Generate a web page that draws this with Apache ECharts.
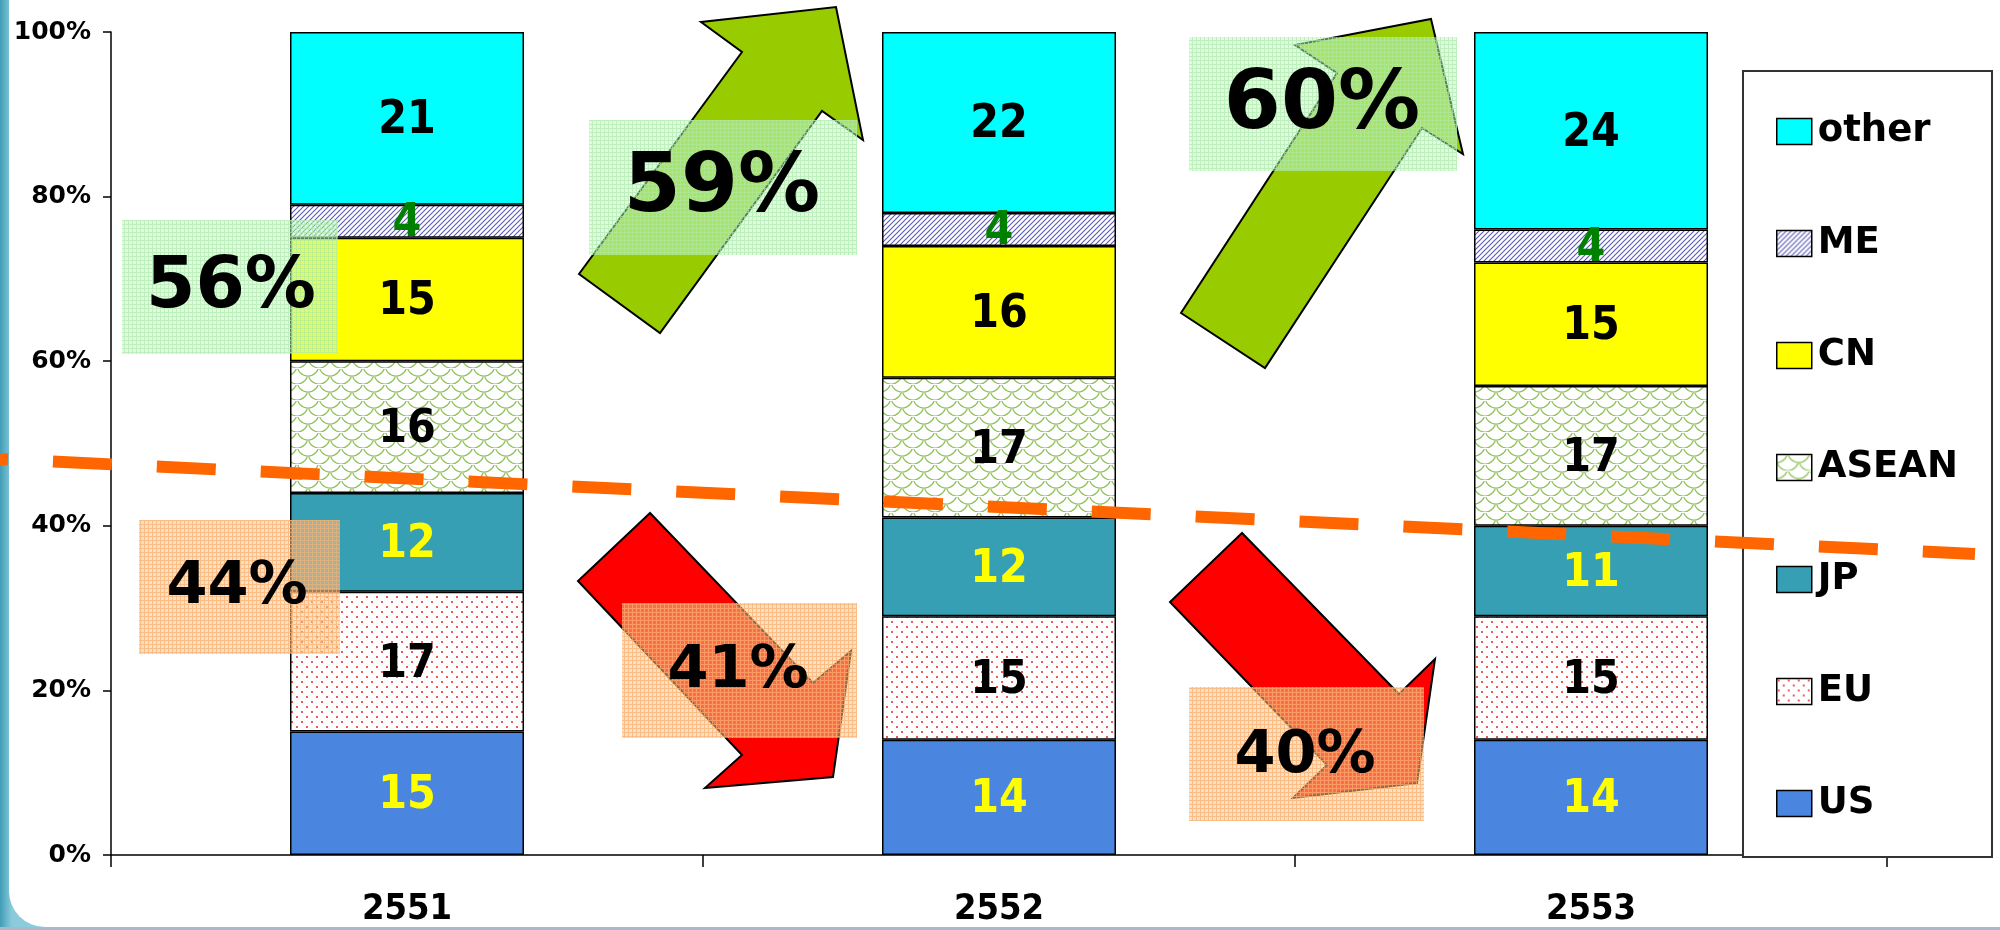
<!DOCTYPE html>
<html>
<head>
<meta charset="utf-8">
<script src="https://cdn.jsdelivr.net/npm/echarts@6/dist/echarts.min.js"></script>
<style>
html,body{margin:0;padding:0;background:#fff;}
#chart{width:2000px;height:930px;}
</style>
</head>
<body>
<div id="chart"></div>
<script>
// ---- data ----
const categories = ['2551', '2552', '2553'];
const US    = [15, 14, 14];
const EU    = [17, 15, 15];
const JP    = [12, 12, 11];
const ASEAN = [16, 17, 17];
const CN    = [15, 16, 15];
const ME    = [4, 4, 4];
const other = [21, 22, 24];
const upShares   = ['56%', '59%', '60%'];
const downShares = ['44%', '41%', '40%'];
const legendOrder = ['other', 'ME', 'CN', 'ASEAN', 'JP', 'EU', 'US'];

// ---- patterns ----
function makeTile(w, h, draw, bg) {
  const c = document.createElement('canvas');
  c.width = w; c.height = h;
  const ctx = c.getContext('2d');
  if (bg) { ctx.fillStyle = bg; ctx.fillRect(0, 0, w, h); }
  draw(ctx, w, h);
  return { image: c, repeat: 'repeat' };
}
const patME = makeTile(5, 5, (ctx, w, h) => {
  ctx.strokeStyle = '#5a5ab8';
  ctx.lineWidth = 1.1;
  ctx.beginPath();
  for (let k = -1; k <= 1; k++) {
    ctx.moveTo(k * w - 1, h + 1);
    ctx.lineTo(k * w + w + 1, -1);
  }
  ctx.stroke();
}, '#fff');
const patASEAN = makeTile(22, 16, (ctx, w, h) => {
  ctx.strokeStyle = '#8fc05a';
  ctx.lineWidth = 1.2;
  const r = 11;
  const arc = (cx, cy) => { ctx.beginPath(); ctx.arc(cx, cy, r, 0.12 * Math.PI, 0.88 * Math.PI); ctx.stroke(); };
  arc(0, -3); arc(22, -3); arc(11, 5); arc(0, 13); arc(22, 13);
}, '#fff');
const patEU = makeTile(10, 10, (ctx) => {
  ctx.fillStyle = '#ee5a5a';
  ctx.fillRect(1, 1, 2, 2);
  ctx.fillRect(6, 6, 2, 2);
}, '#fff');
function boxPattern(base, line) {
  return makeTile(4, 4, (ctx) => {
    ctx.fillStyle = base; ctx.fillRect(0, 0, 4, 4);
    ctx.fillStyle = line; ctx.fillRect(0, 0, 4, 1); ctx.fillRect(0, 1, 1, 3);
  });
}
const greenBox = boxPattern('rgba(195,247,195,0.5)', 'rgba(170,235,170,0.65)');
const orangeBox = boxPattern('rgba(252,195,140,0.55)', 'rgba(250,175,110,0.7)');

const FONT_C = '"DejaVu Sans Condensed", "DejaVu Sans", sans-serif';
const FONT = '"DejaVu Sans", sans-serif';

const defs = [
  { name: 'US',    data: US,    color: '#4A86DF', label: '#FFFF00' },
  { name: 'EU',    data: EU,    color: patEU,     label: '#000000' },
  { name: 'JP',    data: JP,    color: '#379FB4', label: '#FFFF00' },
  { name: 'ASEAN', data: ASEAN, color: patASEAN,  label: '#000000' },
  { name: 'CN',    data: CN,    color: '#FFFF00', label: '#000000' },
  { name: 'ME',    data: ME,    color: patME,     label: '#008000' },
  { name: 'other', data: other, color: '#00FFFF', label: '#000000' }
];

const series = defs.map(d => ({
  name: d.name,
  type: 'bar',
  stack: 'total',
  barWidth: 234,
  data: d.data,
  itemStyle: { color: d.color, borderColor: '#000', borderWidth: 1.5 },
  label: {
    show: true, position: 'inside', offset: [0, 3],
    color: d.label, fontSize: 46, fontWeight: 'bold', fontFamily: FONT_C,
    textBorderWidth: 0
  },
  emphasis: { disabled: true }
}));

// ---- annotation shapes (decorations) ----
const arrowStyle = (fill) => ({ fill: fill, stroke: '#000', lineWidth: 2, lineJoin: 'miter' });
const bigText = (txt, x, y, size) => ({
  type: 'text', z: 7, x: x, y: y,
  style: { text: txt, fill: '#000', font: 'bold ' + size + 'px ' + FONT, align: 'center', verticalAlign: 'middle' }
});

const graphics = [
  // slide background
  { type: 'rect', z: -20, shape: { x: 0, y: 0, width: 2000, height: 930 },
    style: { fill: new echarts.graphic.LinearGradient(0, 0, 1, 0, [
      { offset: 0, color: '#3f9db6' }, { offset: 0.006, color: '#8ccbdb' }, { offset: 1, color: '#c9e6ee' }]) } },
  { type: 'rect', z: -19, shape: { x: 9, y: -60, width: 2100, height: 987, r: 36 },
    style: { fill: '#ffffff' } },
  { type: 'rect', z: -18, shape: { x: 0, y: 927, width: 2000, height: 3 }, style: { fill: '#a7b9cf' } },
  // legend frame
  { type: 'rect', z: 3, shape: { x: 1743, y: 71, width: 249, height: 786 },
    style: { fill: '#fff', stroke: '#333', lineWidth: 2 } },
  // arrows
  { type: 'polygon', z: 5, shape: { points: [[579,274],[660,333],[822,111],[863,140],[836,7],[701,22],[742,52]] }, style: arrowStyle('#99CC00') },
  { type: 'polygon', z: 5, shape: { points: [[1181,313],[1265,368],[1422,128],[1463,154],[1431,19],[1295,45],[1337,73]] }, style: arrowStyle('#99CC00') },
  { type: 'polygon', z: 5, shape: { points: [[650,513],[578,581],[742,755],[705,788],[833,777],[851,651],[813,683]] }, style: arrowStyle('#FF0000') },
  { type: 'polygon', z: 5, shape: { points: [[1242,533],[1170,602],[1327,765],[1293,798],[1417,783],[1435,659],[1399,694]] }, style: arrowStyle('#FF0000') },
  // boxes
  { type: 'rect', z: 6, shape: { x: 122, y: 220, width: 216, height: 134 }, style: { fill: greenBox } },
  { type: 'rect', z: 6, shape: { x: 589, y: 120, width: 268, height: 135 }, style: { fill: greenBox } },
  { type: 'rect', z: 6, shape: { x: 1189, y: 37, width: 268, height: 134 }, style: { fill: greenBox } },
  { type: 'rect', z: 6, shape: { x: 139, y: 520, width: 201, height: 134 }, style: { fill: orangeBox } },
  { type: 'rect', z: 6, shape: { x: 622, y: 603, width: 235, height: 135 }, style: { fill: orangeBox } },
  { type: 'rect', z: 6, shape: { x: 1189, y: 687, width: 235, height: 134 }, style: { fill: orangeBox } },
  // big percentages
  bigText(upShares[0], 231, 289, 71),
  bigText(upShares[1], 722, 190, 82),
  bigText(upShares[2], 1322, 107, 82),
  bigText(downShares[0], 237, 588, 59),
  bigText(downShares[1], 738, 672, 59),
  bigText(downShares[2], 1305, 757, 59),
  // dashed divider
  { type: 'line', z: 8, shape: { x1: 0, y1: 459, x2: 1975, y2: 554 },
    style: { stroke: '#FF6600', lineWidth: 12, lineDash: [59, 45], lineDashOffset: 51 } }
];

const chart = echarts.init(document.getElementById('chart'), null, { renderer: 'canvas' });
chart.setOption({
  animation: false,
  backgroundColor: 'transparent',
  grid: { left: 111, right: 113, top: 32, bottom: 75, outerBoundsMode: 'none' },
  legend: {
    orient: 'vertical', left: 1776, top: 113, padding: 0,
    itemGap: 75, itemWidth: 35, itemHeight: 26, icon: 'rect',
    data: legendOrder,
    selectedMode: false,
    itemStyle: { borderColor: '#000', borderWidth: 1.5 },
    textStyle: { fontSize: 37, fontWeight: 'bold', fontFamily: FONT, color: '#000', padding: [0, 0, 0, 1] },
    z: 4
  },
  xAxis: {
    type: 'category', data: categories,
    axisLine: { show: true, lineStyle: { color: '#000', width: 1.5 } },
    axisTick: { show: true, length: 12, lineStyle: { color: '#000', width: 1.5 } },
    axisLabel: { margin: 37, fontSize: 36, fontWeight: 'bold', fontFamily: FONT_C, color: '#000' },
    splitLine: { show: false }
  },
  yAxis: {
    type: 'value', min: 0, max: 100, interval: 20,
    axisLine: { show: true, lineStyle: { color: '#000', width: 1.5 } },
    axisTick: { show: true, length: 8, lineStyle: { color: '#000', width: 1.5 } },
    axisLabel: { formatter: '{value}%', margin: 20, fontSize: 25, fontWeight: 'bold', fontFamily: FONT, color: '#000' },
    splitLine: { show: false }
  },
  series: series,
  graphic: { elements: graphics }
});
</script>
</body>
</html>
